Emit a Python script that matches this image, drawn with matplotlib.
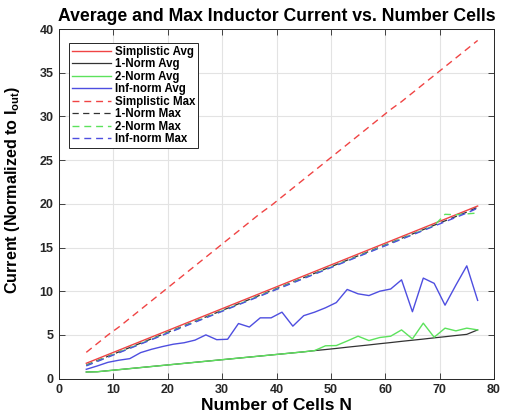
import matplotlib
matplotlib.use("Agg")
import matplotlib.pyplot as plt

plt.rcParams['font.family'] = ['Liberation Sans', 'DejaVu Sans']
plt.rcParams['mathtext.fontset'] = 'custom'
plt.rcParams['mathtext.rm'] = 'Liberation Sans:bold'

# Number of cells (x values)
cells = [5, 7, 9, 11, 13, 15, 17, 19, 21, 23, 25, 27, 29, 31, 33, 35, 37, 39, 41,
         43, 45, 47, 49, 51, 53, 55, 57, 59, 61, 63, 65, 67, 69, 71, 73, 75, 77]

# Average currents
simplistic_avg = [1.75, 2.25, 2.75, 3.25, 3.75, 4.25, 4.75, 5.25, 5.75, 6.25, 6.75, 7.25,
                  7.75, 8.25, 8.75, 9.25, 9.75, 10.25, 10.75, 11.25, 11.75, 12.25, 12.75,
                  13.25, 13.75, 14.25, 14.75, 15.25, 15.75, 16.25, 16.75, 17.25, 17.75,
                  18.25, 18.75, 19.25, 19.75]
norm1_avg = [0.75, 0.78, 0.9, 1.02, 1.14, 1.26, 1.38, 1.5, 1.62, 1.74, 1.86, 1.98, 2.1,
             2.22, 2.34, 2.46, 2.58, 2.7, 2.82, 2.94, 3.06, 3.2, 3.32, 3.45, 3.59, 3.72,
             3.85, 3.99, 4.12, 4.26, 4.39, 4.52, 4.66, 4.79, 4.93, 5.06, 5.57]
norm2_avg = [0.75, 0.78, 0.9, 1.02, 1.14, 1.26, 1.38, 1.5, 1.62, 1.74, 1.86, 1.98, 2.1,
             2.22, 2.34, 2.46, 2.58, 2.7, 2.82, 2.94, 3.06, 3.2, 3.75, 3.78, 4.3, 4.85,
             4.35, 4.7, 4.85, 5.57, 4.54, 6.34, 4.73, 5.77, 5.46, 5.77, 5.57]
inf_avg = [1.06, 1.44, 1.86, 2.1, 2.28, 2.97, 3.35, 3.66, 3.93, 4.1, 4.4, 5.0, 4.45,
           4.5, 6.3, 5.9, 6.95, 6.95, 7.6, 6.0, 7.2, 7.6, 8.1, 8.7, 10.2, 9.7, 9.5,
           10.0, 10.25, 11.3, 7.65, 11.5, 10.9, 8.4, 10.7, 12.9, 8.95]

# Max currents
simplistic_max = [3.0, 4.0, 5.0, 5.9, 6.9, 7.9, 8.9, 9.9, 10.9, 11.9, 12.9, 13.9, 14.9,
                  15.9, 16.9, 17.9, 18.9, 19.8, 20.8, 21.8, 22.8, 23.8, 24.8, 25.8, 26.8,
                  27.8, 28.8, 29.8, 30.8, 31.7, 32.7, 33.7, 34.7, 35.7, 36.7, 37.7, 38.7]
norm1_max = [1.55, 2.05, 2.55, 3.05, 3.55, 4.05, 4.55, 5.05, 5.55, 6.05, 6.55, 7.05,
             7.55, 8.05, 8.55, 9.05, 9.55, 10.05, 10.55, 11.05, 11.55, 12.05, 12.55,
             13.05, 13.55, 14.05, 14.55, 15.05, 15.55, 16.05, 16.55, 17.05, 17.55,
             18.05, 18.55, 19.05, 19.6]
norm2_max = [1.5, 2.0, 2.5, 3.0, 3.5, 4.0, 4.5, 5.0, 5.5, 6.0, 6.5, 7.0, 7.5, 8.0, 8.5,
             9.0, 9.5, 10.0, 10.5, 11.0, 11.5, 12.0, 12.5, 13.0, 13.5, 14.0, 14.5, 15.0,
             15.5, 16.0, 16.5, 17.0, 17.5, 18.8, 18.75, 18.85, 18.95]
inf_max = [1.45, 1.95, 2.45, 2.95, 3.45, 3.95, 4.45, 4.95, 5.45, 5.95, 6.45, 6.95, 7.45,
           7.95, 8.45, 8.95, 9.45, 9.95, 10.45, 10.95, 11.45, 11.95, 12.45, 12.95, 13.45,
           13.95, 14.45, 14.95, 15.45, 15.95, 16.45, 16.95, 17.45, 17.95, 18.45, 18.95,
           19.5]

red = '#f04444'
black = '#333333'
green = '#5ce25c'
blue = '#4e4ee0'

fig = plt.figure(figsize=(5.14, 4.16), dpi=100)
ax = fig.add_axes([0.115, 0.09, 0.846, 0.84])

dash = (0, (5, 3.5))
ax.plot(cells, simplistic_avg, color=red, lw=1.0, label='Simplistic Avg')
ax.plot(cells, norm1_avg, color=black, lw=0.9, label='1-Norm Avg')
ax.plot(cells, norm2_avg, color=green, lw=1.0, label='2-Norm Avg')
ax.plot(cells, inf_avg, color=blue, lw=1.0, label='Inf-norm Avg')
ax.plot(cells, simplistic_max, color=red, lw=1.0, ls=dash, label='Simplistic Max')
ax.plot(cells, norm1_max, color=black, lw=0.9, ls=dash, label='1-Norm Max')
ax.plot(cells, norm2_max, color=green, lw=1.0, ls=dash, label='2-Norm Max')
ax.plot(cells, inf_max, color=blue, lw=1.0, ls=dash, label='Inf-norm Max')

ax.set_xlim(0, 80)
ax.set_ylim(0, 40)
ax.set_xticks(range(0, 81, 10))
ax.set_yticks(range(0, 41, 5))
ax.grid(True, color='#e3e3e3', lw=0.8)
ax.set_axisbelow(True)
ax.tick_params(direction='in', top=True, right=True, length=4, width=0.6,
               labelsize=9, colors='#262626', pad=4)
for lab in ax.get_xticklabels() + ax.get_yticklabels():
    lab.set_fontweight('bold')
for s in ax.spines.values():
    s.set_color('#262626')
    s.set_linewidth(0.7)

ax.set_title('Average and Max Inductor Current vs. Number Cells',
             fontsize=12.7, fontweight='bold', pad=6)
ax.set_xlabel('Number of Cells N', fontsize=12.5, fontweight='bold', labelpad=1)
ax.set_ylabel(r'Current (Normalized to I$_{\mathrm{out}}$)', fontsize=11.6,
              fontweight='bold', labelpad=7)
ax.yaxis.set_label_coords(-0.085, 0.54)

leg = ax.legend(loc='upper left', bbox_to_anchor=(0.023, 0.96),
                prop={'weight': 'bold', 'size': 8.3},
                handlelength=3.4, handletextpad=0.35, labelspacing=0.04,
                borderpad=0.25, fancybox=False, framealpha=1, borderaxespad=0)
leg.get_frame().set_edgecolor('#262626')
leg.get_frame().set_linewidth(0.7)

fig.savefig('out.png', dpi=100)
